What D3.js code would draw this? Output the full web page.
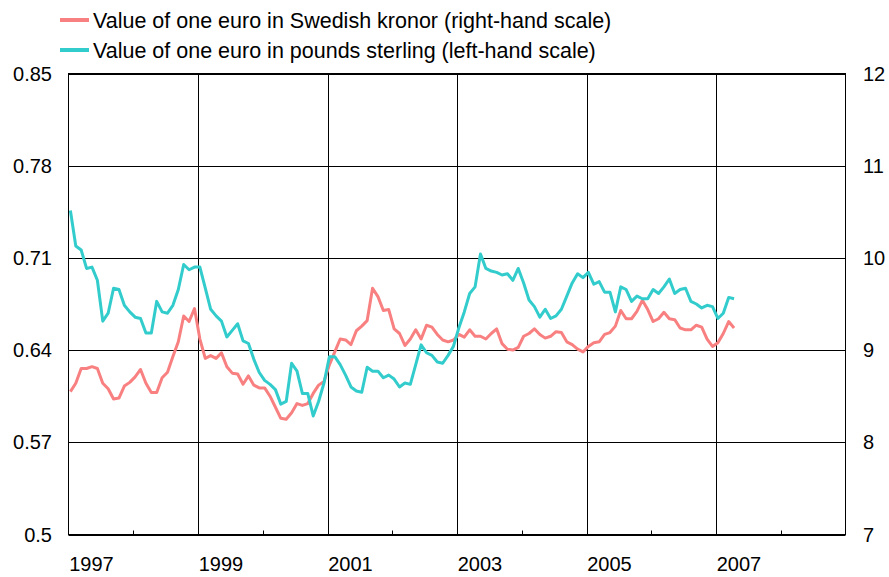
<!DOCTYPE html>
<html>
<head>
<meta charset="utf-8">
<script src="https://cdn.jsdelivr.net/npm/d3@7"></script>
<style>
  body { margin: 0; background: #fff; }
  svg { display: block; font-family: "Liberation Sans", Arial, sans-serif; }
</style>
</head>
<body>
<div id="chart"></div>
<script>
const width = 889;
const height = 577;

// Monthly values, Jan 1997 onwards
const gbpValues = [
  0.746, 0.719, 0.716, 0.702, 0.703, 0.693, 0.662, 0.668, 0.687, 0.686, 0.674, 0.669,
  0.665, 0.664, 0.653, 0.653, 0.677, 0.669, 0.668, 0.674, 0.686, 0.705, 0.701, 0.703,
  0.703, 0.687, 0.671, 0.666, 0.662, 0.650, 0.655, 0.660, 0.647, 0.645, 0.633, 0.623,
  0.617, 0.614, 0.610, 0.599, 0.601, 0.630, 0.624, 0.607, 0.607, 0.590, 0.601, 0.615,
  0.635, 0.635, 0.629, 0.621, 0.612, 0.609, 0.608, 0.627, 0.624, 0.624, 0.619, 0.621,
  0.618, 0.612, 0.615, 0.614, 0.629, 0.644, 0.638, 0.636, 0.631, 0.630, 0.636, 0.643,
  0.657, 0.669, 0.683, 0.688, 0.713, 0.702, 0.700, 0.699, 0.697, 0.698, 0.693, 0.702,
  0.691, 0.678, 0.673, 0.665, 0.671, 0.664, 0.666, 0.671, 0.681, 0.691, 0.698, 0.695,
  0.699, 0.690, 0.692, 0.684, 0.684, 0.669, 0.688, 0.686, 0.677, 0.681, 0.679, 0.679,
  0.686, 0.683, 0.688, 0.694, 0.683, 0.686, 0.687, 0.677, 0.675, 0.672, 0.674, 0.673,
  0.664, 0.668, 0.680, 0.679
];

const sekValues = [
  8.55, 8.64, 8.80, 8.80, 8.82, 8.80, 8.64, 8.58, 8.47, 8.48, 8.61, 8.65,
  8.71, 8.79, 8.64, 8.54, 8.54, 8.70, 8.76, 8.93, 9.09, 9.37, 9.31, 9.45,
  9.12, 8.91, 8.94, 8.91, 8.97, 8.82, 8.75, 8.74, 8.63, 8.72, 8.62, 8.59,
  8.59, 8.50, 8.38, 8.26, 8.25, 8.32, 8.42, 8.40, 8.42, 8.53, 8.62, 8.66,
  8.84, 8.98, 9.12, 9.11, 9.06, 9.21, 9.26, 9.32, 9.67, 9.58, 9.43, 9.44,
  9.23, 9.18, 9.05, 9.12, 9.22, 9.12, 9.27, 9.25, 9.17, 9.11, 9.09, 9.11,
  9.17, 9.14, 9.22, 9.15, 9.15, 9.12, 9.18, 9.23, 9.07, 9.01, 9.00, 9.03,
  9.15, 9.18, 9.23, 9.17, 9.13, 9.15, 9.20, 9.19, 9.09, 9.06, 9.01, 8.98,
  9.04, 9.08, 9.09, 9.17, 9.19, 9.26, 9.43, 9.34, 9.34, 9.42, 9.54, 9.44,
  9.31, 9.34, 9.41, 9.34, 9.33, 9.24, 9.22, 9.22, 9.27, 9.25, 9.12, 9.04,
  9.08, 9.18, 9.31, 9.24
];

const leftTicks = [0.5, 0.57, 0.64, 0.71, 0.78, 0.85];
const rightTicks = [7, 8, 9, 10, 11, 12];
const yearLabels = [1997, 1999, 2001, 2003, 2005, 2007];
const minorYears = [1998, 2000, 2002, 2004, 2006, 2008];

const legendItems = [
  { label: "Value of one euro in Swedish kronor (right-hand scale)", color: "#f88080" },
  { label: "Value of one euro in pounds sterling (left-hand scale)", color: "#33cccc" }
];

const plot = { left: 68.5, right: 845.5, top: 73.5, bottom: 534.5 };

const svg = d3.select("#chart")
    .append("svg")
    .attr("width", width)
    .attr("height", height);

// scales
const x = d3.scaleLinear().domain([1997, 2009]).range([plot.left, plot.right]);
const yLeft = d3.scaleLinear().domain([0.5, 0.85]).range([plot.bottom, plot.top]);
const yRight = d3.scaleLinear().domain([7, 12]).range([plot.bottom, plot.top]);

// monthly point -> decimal year
const monthX = i => x(1997 + (i + 0.35) / 12);

// horizontal grid
svg.append("g")
    .selectAll("line")
    .data(leftTicks)
    .join("line")
    .attr("x1", plot.left).attr("x2", plot.right)
    .attr("y1", d => Math.round(yLeft(d)) + 0.5)
    .attr("y2", d => Math.round(yLeft(d)) + 0.5)
    .attr("stroke", "#000").attr("stroke-width", 1);

// vertical grid at labelled years
svg.append("g")
    .selectAll("line")
    .data(yearLabels.slice(1))
    .join("line")
    .attr("x1", d => Math.round(x(d)) + 0.5).attr("x2", d => Math.round(x(d)) + 0.5)
    .attr("y1", plot.top).attr("y2", plot.bottom)
    .attr("stroke", "#000").attr("stroke-width", 1);

// small ticks on the bottom axis
svg.append("g")
    .selectAll("line")
    .data(minorYears)
    .join("line")
    .attr("x1", d => Math.round(x(d)) + 0.5).attr("x2", d => Math.round(x(d)) + 0.5)
    .attr("y1", plot.bottom - 4).attr("y2", plot.bottom)
    .attr("stroke", "#000").attr("stroke-width", 1);

// frame
svg.append("rect")
    .attr("x", plot.left).attr("y", plot.top)
    .attr("width", plot.right - plot.left).attr("height", plot.bottom - plot.top)
    .attr("fill", "none").attr("stroke", "#000").attr("stroke-width", 1);

// lines
const lineLeft = d3.line().x((d, i) => monthX(i)).y(d => yLeft(d));
const lineRight = d3.line().x((d, i) => monthX(i)).y(d => yRight(d));

svg.append("path")
    .datum(sekValues)
    .attr("d", lineRight)
    .attr("fill", "none")
    .attr("stroke", legendItems[0].color)
    .attr("stroke-width", 3)
    .attr("stroke-linejoin", "round");

svg.append("path")
    .datum(gbpValues)
    .attr("d", lineLeft)
    .attr("fill", "none")
    .attr("stroke", legendItems[1].color)
    .attr("stroke-width", 3)
    .attr("stroke-linejoin", "round");

// axis labels
svg.append("g")
    .selectAll("text")
    .data(leftTicks)
    .join("text")
    .attr("x", 52).attr("y", d => yLeft(d))
    .attr("dy", "0.35em")
    .attr("text-anchor", "end")
    .attr("font-size", 20)
    .text(d => d === 0.5 ? "0.5" : d3.format(".2f")(d));

svg.append("g")
    .selectAll("text")
    .data(rightTicks)
    .join("text")
    .attr("x", 863).attr("y", d => yRight(d))
    .attr("dy", "0.35em")
    .attr("font-size", 20)
    .text(d => d);

svg.append("g")
    .selectAll("text")
    .data(yearLabels)
    .join("text")
    .attr("x", d => x(d) + 23).attr("y", 571)
    .attr("text-anchor", "middle")
    .attr("font-size", 20)
    .text(d => d);

// legend
const legend = svg.append("g")
    .selectAll("g")
    .data(legendItems)
    .join("g")
    .attr("transform", (d, i) => `translate(0, ${20 + i * 30})`);

legend.append("line")
    .attr("x1", 60).attr("x2", 89)
    .attr("stroke", d => d.color)
    .attr("stroke-width", 4);

legend.append("text")
    .attr("x", 93)
    .attr("dy", "0.35em")
    .attr("font-size", 21.5)
    .text(d => d.label);
</script>
</body>
</html>
